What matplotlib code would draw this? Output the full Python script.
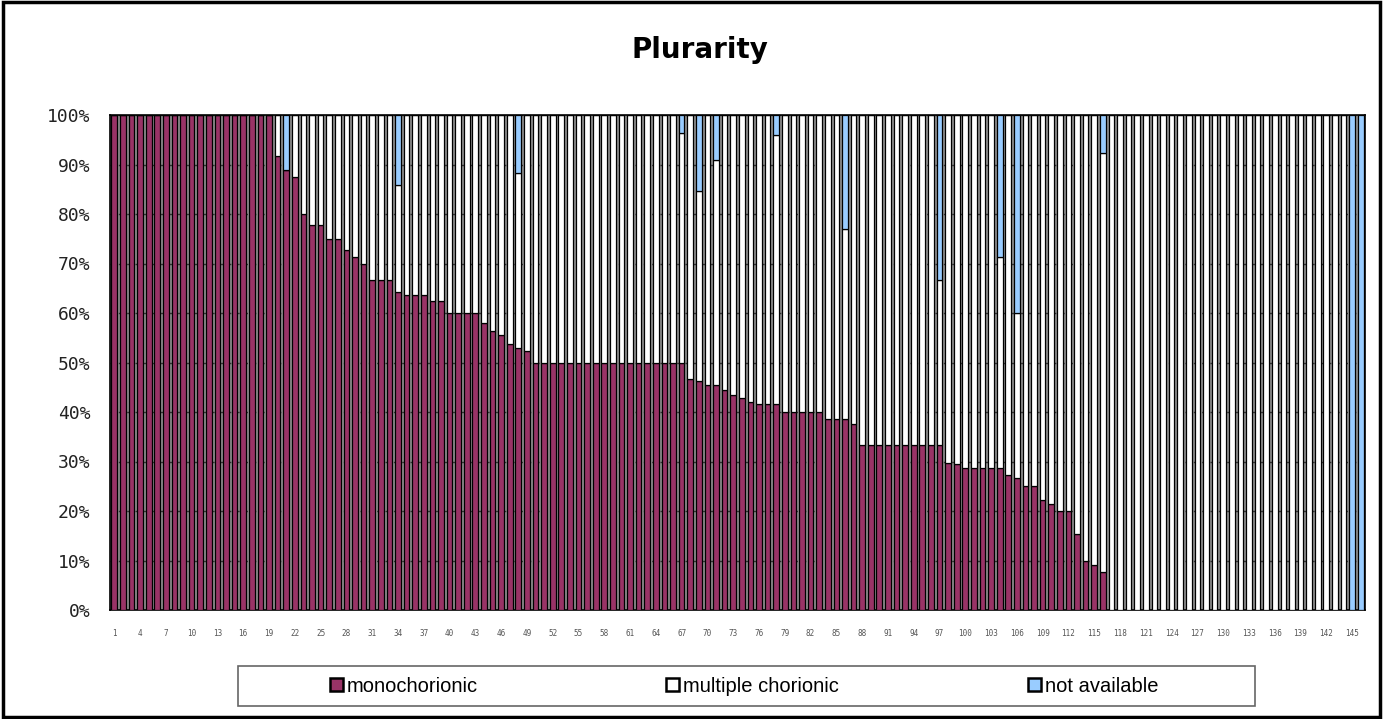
import matplotlib
matplotlib.use("Agg")
import matplotlib.pyplot as plt
from matplotlib.patches import Rectangle, Patch
import numpy as np

title = "Plurarity"
series_names = ["monochorionic", "multiple chorionic", "not available"]
colors = ["#993366", "#FFFFFF", "#99CCFF"]

# percentage of monochorionic per case (146 cases)
mono = ([100.0] * 19 +
        [91.7, 88.9, 87.5, 80.0, 77.8, 77.8, 75.0, 75.0, 72.7, 71.4, 70.0,
         66.7, 66.7, 66.7, 64.3, 63.6, 63.6, 63.6, 62.5, 62.5,
         60.0, 60.0, 60.0, 60.0, 57.9, 56.3, 55.6, 53.8, 52.9, 52.4] +
        [50.0] * 18 +
        [46.7, 46.2, 45.5, 45.5, 44.4, 43.5, 42.9, 42.1, 41.7, 41.7, 41.7,
         40.0, 40.0, 40.0, 40.0, 40.0, 38.5, 38.5, 38.5, 37.5] +
        [33.3] * 10 +
        [29.6, 29.4, 28.6, 28.6, 28.6, 28.6, 28.6, 27.3, 26.7, 25.0, 25.0,
         22.2, 21.4, 20.0, 20.0, 15.4, 10.0, 9.1, 7.7] +
        [0.0] * 28 +
        [0.0, 0.0])

# percentage "not available" per case (0 where absent)
na_cases = {21: 11.1, 34: 14.1, 48: 11.8, 67: 3.6, 69: 15.4, 71: 9.1,
            78: 4.0, 86: 23.1, 97: 33.3, 104: 28.6, 106: 40.0, 116: 7.7,
            145: 100.0, 146: 100.0}

n = len(mono)
cases = np.arange(1, n + 1)
mono = np.array(mono)
na = np.array([na_cases.get(i, 0.0) for i in cases])
multi = 100.0 - mono - na
multi[multi < 0] = 0.0

fig = plt.figure(figsize=(13.83, 7.19), dpi=100)
ax = fig.add_axes([110 / 1383, 109 / 719, 1255 / 1383, 495 / 719])
ax.set_facecolor("#8f8f8f")

w = 0.66
lw = 0.9
ax.bar(cases, mono, width=w, color=colors[0], edgecolor="black", linewidth=lw, zorder=3)
ax.bar(cases, multi, width=w, bottom=mono, color=colors[1], edgecolor="black", linewidth=lw, zorder=3)
ax.bar(cases, na, width=w, bottom=mono + multi, color=colors[2], edgecolor="black", linewidth=lw, zorder=3)

ax.set_xlim(0.5, n + 0.5)
ax.set_ylim(0, 100)
ax.set_yticks(np.arange(0, 101, 10))
ax.set_yticklabels([f"{v}%" for v in range(0, 101, 10)], family="DejaVu Sans Mono", fontsize=13,
                   color="#222222")
ax.yaxis.grid(True, color="#333333", linestyle=(0, (3, 3)), linewidth=1.0, zorder=0)
ax.set_axisbelow(True)
ax.tick_params(axis="y", length=0, pad=14)

xt = cases[::3]
ax.set_xticks(xt)
ax.set_xticklabels([str(v) for v in xt], family="DejaVu Sans Mono", fontsize=5.5, color="#555555")
ax.tick_params(axis="x", length=0, pad=14)

for s in ax.spines.values():
    s.set_color("black")
    s.set_linewidth(1.2)

fig.text(700 / 1383, 1 - 50 / 719, title, ha="center", va="center", fontsize=20, fontweight="bold",
         family="DejaVu Sans")

# legend frame
fig.patches.append(Rectangle((238 / 1383, 1 - 706 / 719), 1017 / 1383, 40 / 719,
                             transform=fig.transFigure, facecolor="white",
                             edgecolor="#666666", linewidth=1.2))
handles = [Patch(facecolor=c, edgecolor="black", linewidth=1.8) for c in colors]
fig.legend(handles, series_names, loc="center", bbox_to_anchor=(744 / 1383, 1 - 686 / 719),
           ncol=3, frameon=False, prop={"family": "Liberation Sans", "size": 14.5},
           handlelength=0.65, handleheight=0.65, handletextpad=0.2, columnspacing=9.35)

# outer border
fig.patches.append(Rectangle((0.002, 0.003), 0.996, 0.994, transform=fig.transFigure,
                             fill=False, edgecolor="black", linewidth=2.5))

fig.savefig("out.png", dpi=100)
